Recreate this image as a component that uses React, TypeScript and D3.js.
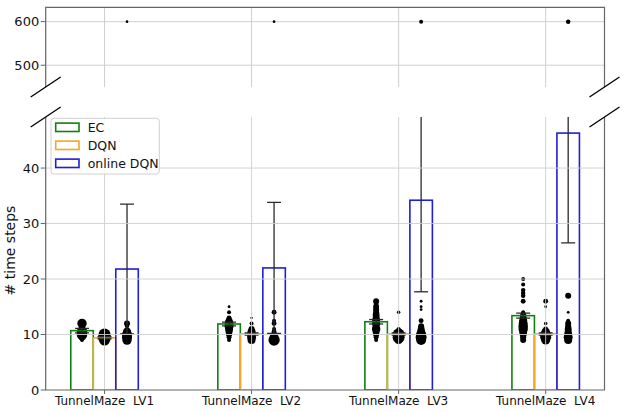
import React from "react";
import * as d3 from "d3";

const categories = ["TunnelMaze  LV1", "TunnelMaze  LV2", "TunnelMaze  LV3", "TunnelMaze  LV4"];
const seriesNames = ["EC", "DQN", "online DQN"];
const seriesColors = ["#118011", "#f5a623", "#1f1fd6"];

const ecMean = [10.7, 11.9, 12.3, 13.4];
const ecStd = [0.4, 0.35, 0.4, 0.45];
const dqnMean = [9.4, 10.1, 10.1, 10.1];
const dqnStd = [0.2, 0.2, 0.2, 0.2];
const onlineMean = [21.8, 22.0, 34.2, 46.3];
const onlineStd = [11.7, 11.8, 16.5, 19.8];

// [value, count] per group
const ecPoints: [number, number][][] = [
  [[12, 22], [11.5, 9], [11, 12], [10.5, 28], [10, 28], [9.5, 12], [9, 4]],
  [[15, 2], [14, 4], [13, 6], [12.5, 12], [12, 20], [11.5, 20], [11, 16], [10.5, 12], [10, 9], [9.5, 6], [9, 4]],
  [[16, 9], [15.5, 6], [15, 9], [14.5, 9], [14, 9], [13.5, 12], [13, 12], [12.5, 16], [12, 16], [11.5, 12], [11, 18], [10.5, 12], [10, 9], [9.5, 6], [9, 4]],
  [[20, 4], [19, 4], [18, 5], [17.5, 5], [17, 5], [16, 6], [14, 4], [13.5, 9], [13, 12], [12.5, 16], [12, 20], [11.5, 22], [11, 22], [10.5, 16], [10, 12], [9.5, 9], [9, 9]],
];
const dqnPoints: [number, number][][] = [
  [[10.5, 9], [10, 36], [9.5, 42], [9, 30]],
  [[13, 1.5], [12, 4], [11, 9], [10.5, 16], [10, 20], [9.5, 20], [9, 16]],
  [[14, 3], [11, 4], [10.5, 12], [10, 36], [9.5, 36], [9, 16]],
  [[16, 6], [15, 2], [12, 3], [11, 6], [10.5, 16], [10, 30], [9.5, 30], [9, 20]],
];
const onlinePoints: [number, number][][] = [
  [[600, 1.8], [12, 9], [11.5, 4], [11, 4], [10.5, 16], [10, 25], [9.5, 25], [9, 22]],
  [[600, 1.8], [14, 6], [12.5, 4], [12, 6], [11, 4], [10.5, 6], [10, 9], [9.5, 20], [9, 32]],
  [[600, 4], [16, 2], [15, 2], [14.5, 2], [12.5, 6], [11.5, 9], [11, 12], [10.5, 16], [10, 25], [9.5, 30], [9, 25]],
  [[600, 5], [17, 9], [14, 2], [12.5, 4], [12, 9], [11.5, 9], [11, 12], [10.5, 12], [10, 16], [9.5, 20], [9, 16]],
];

const bottomTicks = [0, 10, 20, 30, 40];
const topTicks = [500, 600];

const W = 624;
const H = 412;
const left = 45.7;
const right = 604.5;
const topY0 = 7.3;
const topY1 = 87;
const botY0 = 117;
const botY1 = 390;
const font = "DejaVu Sans, sans-serif";

export default function App() {
  const x = d3.scalePoint<string>().domain(categories).range([left, right]).padding(0.4);
  const sub = d3.scaleBand<string>().domain(seriesNames).range([-33.75, 33.75]).padding(0);
  const yB = d3.scaleLinear().domain([0, 49.2]).range([botY1, botY0]);
  const yT = d3.scaleLinear().domain([450, 633]).range([topY1, topY0]);
  const r = d3.scaleSqrt().domain([0, 25]).range([0, 5]);

  const means = [ecMean, dqnMean, onlineMean];
  const stds = [ecStd, dqnStd, onlineStd];
  const points = [ecPoints, dqnPoints, onlinePoints];
  const bw = sub.bandwidth();
  const cx = (g: number, s: number) => (x(categories[g]) as number) + (sub(seriesNames[s]) as number) + bw / 2;

  return (
    <svg width={W} height={H} style={{ position: "absolute", left: 0, top: 0, background: "#fff" }} fontFamily={font}>
      <defs>
        <clipPath id="clipB">
          <rect x={left} y={botY0} width={right - left} height={botY1 - botY0} />
        </clipPath>
        <clipPath id="clipT">
          <rect x={left} y={topY0} width={right - left} height={topY1 - topY0} />
        </clipPath>
      </defs>

      {/* top panel grid (below dots) */}
      <g stroke="#cfcfcf" strokeWidth={1}>
        {topTicks.map((t) => (
          <line key={`gt-${t}`} x1={left} x2={right} y1={yT(t)} y2={yT(t)} />
        ))}
        {categories.map((c) => (
          <line key={`gvt-${c}`} x1={x(c)} x2={x(c)} y1={topY0} y2={topY1} />
        ))}
      </g>

      {/* scatter points */}
      <g clipPath="url(#clipB)">
        {points.map((ser, s) =>
          ser.map((grp, g) =>
            grp.filter((p) => p[0] < 100).map((p, i) => (
              <circle key={`b-${s}-${g}-${i}`} cx={cx(g, s)} cy={yB(p[0])} r={r(p[1])} fill="#000" />
            ))
          )
        )}
      </g>
      <g clipPath="url(#clipT)">
        {points.map((ser, s) =>
          ser.map((grp, g) =>
            grp.filter((p) => p[0] > 100).map((p, i) => (
              <circle key={`t-${s}-${g}-${i}`} cx={cx(g, s)} cy={yT(p[0])} r={r(p[1])} fill="#000" />
            ))
          )
        )}
      </g>

      {/* bars */}
      <g clipPath="url(#clipB)">
        {means.map((m, s) =>
          m.map((v, g) => (
            <rect
              key={`bar-${s}-${g}`}
              x={cx(g, s) - bw / 2}
              y={yB(v)}
              width={bw}
              height={yB(0) - yB(v)}
              fill="none"
              stroke={seriesColors[s]}
              strokeWidth={1.6}
            />
          ))
        )}
      </g>

      {/* error bars */}
      <g clipPath="url(#clipB)" stroke="#2a2a2a" strokeWidth={1.3}>
        {means.map((m, s) =>
          m.map((v, g) => {
            const c = cx(g, s);
            const lo = yB(v - stds[s][g]);
            const hi = yB(v + stds[s][g]);
            return (
              <g key={`err-${s}-${g}`}>
                <line x1={c} x2={c} y1={lo} y2={hi} />
                <line x1={c - 7} x2={c + 7} y1={lo} y2={lo} />
                <line x1={c - 7} x2={c + 7} y1={hi} y2={hi} />
              </g>
            );
          })
        )}
      </g>

      {/* bottom panel grid */}
      <g stroke="#cfcfcf" strokeWidth={1} opacity={0.9}>
        {bottomTicks.filter((t) => t > 0).map((t) => (
          <line key={`gb-${t}`} x1={left} x2={right} y1={yB(t)} y2={yB(t)} />
        ))}
        {categories.map((c) => (
          <line key={`gvb-${c}`} x1={x(c)} x2={x(c)} y1={botY0} y2={botY1} />
        ))}
      </g>

      {/* spines */}
      <g stroke="#666" strokeWidth={1.2} fill="none">
        <path d={`M${left},${topY1}V${topY0}H${right}V${topY1}`} />
        <path d={`M${left},${botY0}V${botY1}H${right}V${botY0}`} />
      </g>

      {/* break marks */}
      <g stroke="#000" strokeWidth={1.3}>
        {[left, right].map((xx) =>
          [topY1, botY0].map((yy) => (
            <line key={`brk-${xx}-${yy}`} x1={xx - 15} y1={yy + 10} x2={xx + 15} y2={yy - 10} />
          ))
        )}
      </g>

      {/* y ticks */}
      <g fontSize={13} fill="#111" textAnchor="end">
        {bottomTicks.map((t) => (
          <g key={`yb-${t}`}>
            <line x1={left - 5} x2={left} y1={yB(t)} y2={yB(t)} stroke="#666" />
            <text x={left - 6.5} y={yB(t)} dominantBaseline="central">{t}</text>
          </g>
        ))}
        {topTicks.map((t) => (
          <g key={`yt-${t}`}>
            <line x1={left - 5} x2={left} y1={yT(t)} y2={yT(t)} stroke="#666" />
            <text x={left - 6.5} y={yT(t)} dominantBaseline="central">{t}</text>
          </g>
        ))}
      </g>

      {/* x ticks */}
      <g fontSize={12} fill="#111" textAnchor="middle">
        {categories.map((c) => (
          <g key={`xt-${c}`}>
            <line x1={x(c)} x2={x(c)} y1={botY1} y2={botY1 + 4} stroke="#666" />
            <text x={x(c)} y={401} dominantBaseline="central" style={{ whiteSpace: "pre" }}>{c}</text>
          </g>
        ))}
      </g>

      <text
        transform={`translate(15,${(botY0 + botY1) / 2 - 3}) rotate(-90)`}
        textAnchor="middle"
        fontSize={14}
        fill="#111"
      >
        # time steps
      </text>

      {/* legend */}
      <g>
        <rect x={51} y={118.3} width={108.3} height={55.7} rx={3} fill="#fff" fillOpacity={0.85} stroke="#d0d0d0" />
        {seriesNames.map((n, i) => (
          <g key={`lg-${n}`} transform={`translate(0,${127.3 + i * 18})`}>
            <rect x={55.7} y={-4.2} width={23.3} height={8.4} fill="none" stroke={seriesColors[i]} strokeWidth={1.6} />
            <text x={87.7} y={0} dominantBaseline="central" fontSize={12.5} fill="#111">{n}</text>
          </g>
        ))}
      </g>
    </svg>
  );
}
